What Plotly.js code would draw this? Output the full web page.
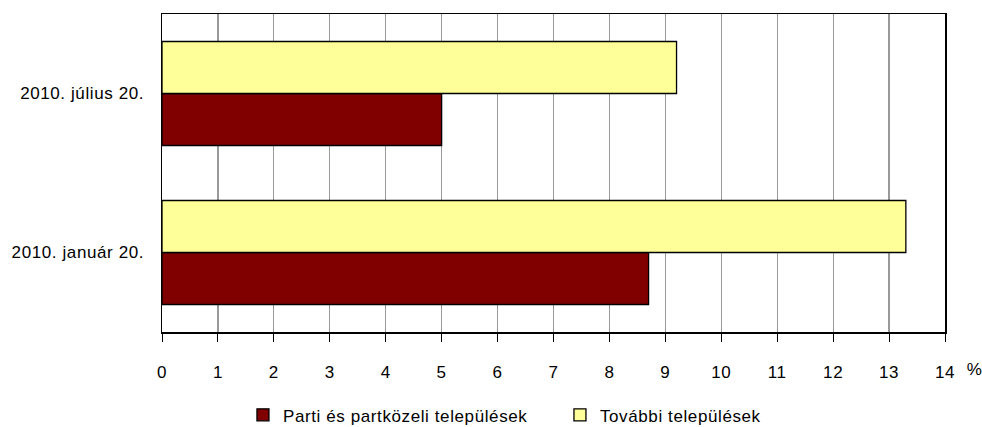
<!DOCTYPE html>
<html>
<head>
<meta charset="utf-8">
<script src="https://cdn.plot.ly/plotly-3.0.1.min.js"></script>
<style>
html,body{margin:0;padding:0;background:#fff;}
#chart{width:982px;height:427px;}
#chart svg text{letter-spacing:0.6px;}
</style>
</head>
<body>
<div id="chart"></div>
<script>
const categories = ["2010. január 20.", "2010. július 20."];
const seriesNames = ["Parti és partközeli települések", "További települések"];
const partiValues = [8.7, 5.0];
const tovabbiValues = [13.3, 9.2];
const xTickValues = [0,1,2,3,4,5,6,7,8,9,10,11,12,13,14];
const unitLabel = "%";

const font = "Liberation Sans, Arial, sans-serif";
const fs = 17;

const traces = [
  {
    type: "bar", orientation: "h", name: seriesNames[0],
    y: categories, x: partiValues,
    marker: {color: "#800000", line: {color: "#000", width: 1.3}},
    hoverinfo: "none"
  },
  {
    type: "bar", orientation: "h", name: seriesNames[1],
    y: categories, x: tovabbiValues,
    marker: {color: "#ffff99", line: {color: "#000", width: 1.3}},
    hoverinfo: "none"
  }
];

const layout = {
  width: 982, height: 427,
  margin: {l: 162, r: 37, t: 14, b: 95, autoexpand: false},
  paper_bgcolor: "#fff", plot_bgcolor: "#fff",
  barmode: "group", bargap: 0.346, bargroupgap: 0,
  font: {family: font, size: fs, color: "#000"},
  xaxis: {
    range: [0, 14], tickvals: xTickValues, ticktext: xTickValues.map(String),
    showgrid: true, gridcolor: "#999", gridwidth: 1.2,
    zeroline: false,
    showline: true, linecolor: "#000", linewidth: 1.5, mirror: true,
    ticks: "outside", ticklen: 8, tickcolor: "#000", tickwidth: 1,
    tickfont: {family: font, size: fs, color: "#000"},
    ticklabelstandoff: 16,
    automargin: false
  },
  yaxis: {
    type: "category", categoryorder: "array", categoryarray: categories,
    range: [-0.5, 1.5],
    showgrid: false, zeroline: false,
    showline: true, linecolor: "#000", linewidth: 1.5, mirror: true,
    ticks: "", tickfont: {family: font, size: fs, color: "#000"},
    ticklabelstandoff: 13,
    automargin: false
  },
  showlegend: true,
  legend: {
    orientation: "h", x: 0.1034, xanchor: "left", y: -0.262, yanchor: "middle",
    font: {family: font, size: fs, color: "#000"},
    entrywidth: 272, entrywidthmode: "pixels",
    traceorder: "normal", bgcolor: "rgba(0,0,0,0)"
  },
  annotations: [{
    xref: "paper", yref: "paper", x: 1.025, y: -0.119, xanchor: "left", yanchor: "middle",
    text: unitLabel, showarrow: false, font: {family: font, size: fs, color: "#000"}
  }]
};

Plotly.newPlot("chart", traces, layout, {displayModeBar: false, staticPlot: true});
</script>
</body>
</html>
